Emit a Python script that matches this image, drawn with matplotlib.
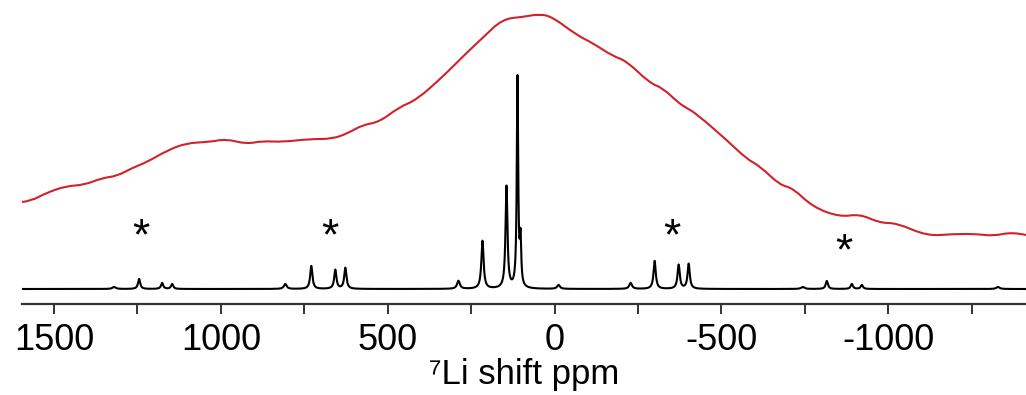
import numpy as np
import matplotlib.pyplot as plt
from matplotlib.path import Path
from matplotlib.patches import PathPatch

# red trace (broad spectrum), ppm / intensity
red_ppm = [1596, 1569, 1524, 1464, 1410, 1356, 1311, 1266, 1221, 1164, 1104, 1035, 984, 924,
           876, 816, 735, 666, 618, 576, 525, 465, 414, 336, 264, 216, 156, 96, 45, 6,
           -66, -114, -174, -216, -285, -324, -372, -396, -426, -516, -576, -615, -675, -714,
           -774, -855, -915, -975, -1026, -1116, -1194, -1266, -1314, -1374, -1413]
red_int = [102, 103, 111, 118, 119, 126, 128, 136, 142, 153, 161, 162, 165, 160,
           163, 162, 165, 165, 171, 179, 182, 197, 204, 227, 251, 266, 285, 287, 290, 287,
           269, 261, 248, 243, 221, 216, 201, 196, 190, 164, 145, 138, 119, 116,
           97, 87, 90, 81, 81, 68, 70, 70, 68, 72, 69]

# black trace (fast MAS spectrum): peak table
pk_ppm = [1320, 1245, 1176, 1146, 807, 729, 657, 627, 288, 216, 144, 111, 102, -12,
          -228, -300, -372, -402, -744, -816, -891, -921, -1329]
pk_height = [2, 10, 6, 5, 5, 23, 19, 21, 8, 48, 102, 210, 45, 4,
             6, 28, 24, 25, 2, 8, 5, 4, 2]
pk_width = [6, 4, 4, 4, 5, 4, 4, 4, 5, 4, 3.5, 2.5, 2.5, 5,
            5, 4, 4, 4, 6, 4, 4, 4, 6]
baseline = 15

# spinning sidebands
star_ppm = [1240, 672, -351, -867]
star_int = [66, 66, 66, 51]

ppm = np.linspace(1596, -1413, 8000)
black = np.full_like(ppm, baseline, dtype=float)
for p, h, w in zip(pk_ppm, pk_height, pk_width):
    black += h / (1 + ((ppm - p) / w) ** 2)

plt.rcParams['font.family'] = ['Liberation Sans', 'DejaVu Sans']
plt.rcParams['axes.unicode_minus'] = False

fig = plt.figure(figsize=(10.26, 3.95), dpi=100)
ax = fig.add_axes([22/1026, 1 - 304/395, 1004/1026, 304/395])

# red line drawn smooth: listed points as quadratic bezier control points
pts = np.column_stack([red_ppm, red_int])
verts = [pts[0]]
codes = [Path.MOVETO]
for i in range(1, len(pts) - 1):
    mid = (pts[i] + pts[i + 1]) / 2 if i < len(pts) - 2 else pts[i + 1]
    verts += [pts[i], mid]
    codes += [Path.CURVE3, Path.CURVE3]
ax.add_patch(PathPatch(Path(verts, codes), fill=False, edgecolor='#d0222b', lw=1.5))

ax.plot(ppm, black, color='black', lw=1.5)
for p, v in zip(star_ppm, star_int):
    ax.text(p, v, '*', fontsize=32, ha='center', va='center')

ax.set_xlim(1596, -1413)
ax.set_ylim(0, 304)
for s in ['top', 'left', 'right']:
    ax.spines[s].set_visible(False)
ax.spines['bottom'].set_linewidth(1.6)
ax.spines['bottom'].set_color('#333333')
ax.set_yticks([])
ax.set_xticks([1500, 1000, 500, 0, -500, -1000])
ax.set_xticks([1250, 750, 250, -250, -750, -1250], minor=True)
ax.tick_params(axis='x', which='both', length=7, width=1.4, color='#333333',
               labelsize=26, pad=7)
ax.set_xlabel('\u2077Li shift ppm', fontsize=25, labelpad=0)

fig.savefig('out.png', dpi=100)
